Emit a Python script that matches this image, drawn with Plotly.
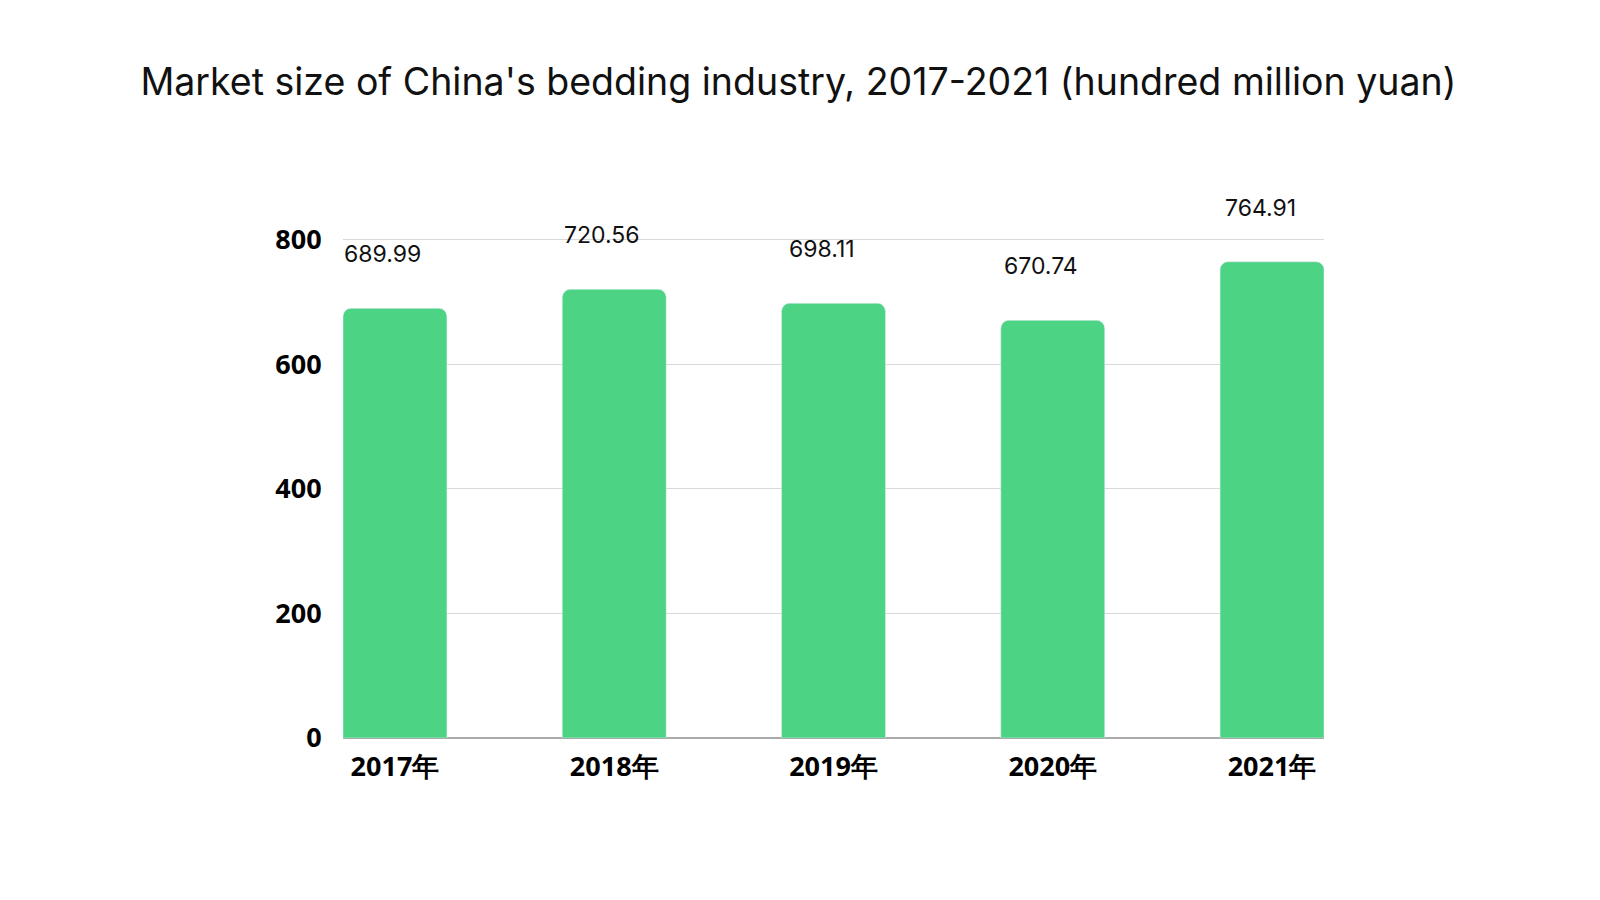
import plotly.graph_objects as go

years = ["2017年", "2018年", "2019年", "2020年", "2021年"]
values = [689.99, 720.56, 698.11, 670.74, 764.91]
y_ticks = [0, 200, 400, 600, 800]

fig = go.Figure()
fig.add_trace(go.Bar(
    x=years, y=values,
    marker=dict(color="#4dd384", cornerradius=8),
    width=0.474,
    hoverinfo="skip",
))

for yr, v in zip(years, values):
    fig.add_annotation(
        x=yr, y=v, text=f"{v:.2f}", showarrow=False,
        yshift=54, xshift=-12,
        font=dict(family="Inter, Lato, sans-serif", size=23, color="#111111"),
    )

fig.update_layout(
    width=1600, height=900,
    paper_bgcolor="white", plot_bgcolor="white",
    margin=dict(l=335, r=284, t=230, b=170),
    showlegend=False,
    title=dict(
        text="Market size of China's bedding industry, 2017-2021 (hundred million yuan)",
        x=0.494, xanchor="center", y=0.918, yanchor="middle",
        font=dict(family="Inter, Lato, sans-serif", size=37.5, color="#111111"),
    ),
    xaxis=dict(
        range=[-0.237, 4.237], showgrid=False, zeroline=False,
        showline=False, ticks="", ticklabelstandoff=10,
        tickfont=dict(family="Open Sans", size=27, color="#000000", weight="bold"),
    ),
    yaxis=dict(
        range=[0, 803], tickvals=y_ticks, showgrid=True, gridcolor="#d9d9d9", gridwidth=1,
        zeroline=True, zerolinecolor="#aaaaaa", zerolinewidth=1.5,
        ticks="outside", ticklen=15, tickcolor="rgba(0,0,0,0)",
        tickfont=dict(family="Open Sans", size=27, color="#000000", weight="bold"),
    ),
)

fig.write_html("out.html")
